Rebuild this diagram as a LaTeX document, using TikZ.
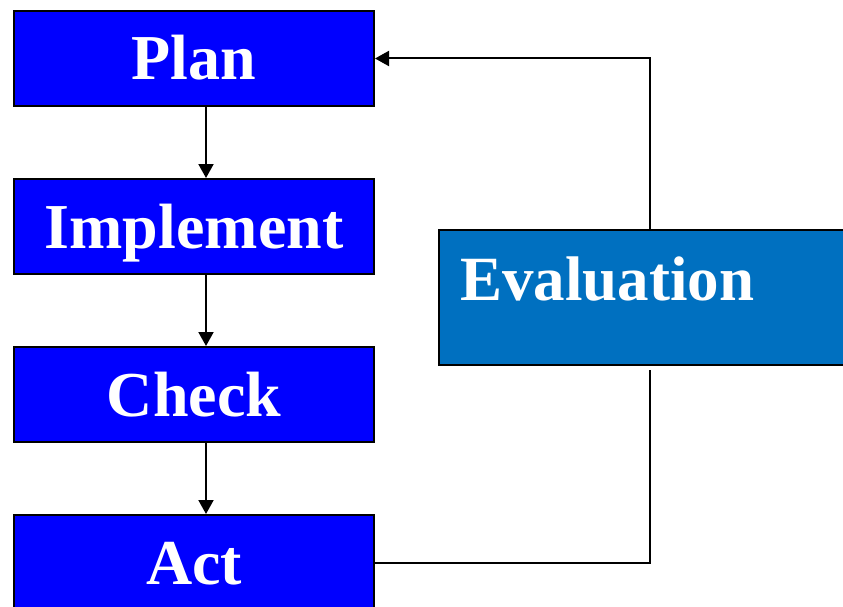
\documentclass[tikz,border=0pt]{standalone}
\usepackage{fontspec}
\setmainfont{Liberation Serif}
\usetikzlibrary{arrows.meta}
\definecolor{stepblue}{HTML}{0000FF}
\definecolor{evalblue}{HTML}{0070C0}
\begin{document}
\begin{tikzpicture}[x=1pt,y=-1pt,
  stepbox/.style={draw=black, line width=2pt, fill=stepblue, text=white,
    font=\fontsize{64}{70}\selectfont\bfseries, minimum width=360pt,
    text height=69pt, text depth=26pt, inner xsep=0pt, inner ysep=0pt, anchor=north west},
  evalbox/.style={draw=black, line width=2pt, fill=evalblue, text=white,
    font=\fontsize{63}{70}\selectfont\bfseries, text width=390pt, align=left,
    text height=70pt, text depth=65pt, inner xsep=21pt, inner ysep=0pt, anchor=north west},
  arr/.style={line width=2pt, -{Triangle[length=14pt,width=15pt]}},
  conn/.style={line width=2pt}]
\useasboundingbox (0,0) rectangle (843,607);
\clip (0,0) rectangle (843,607);
\node[stepbox] (plan) at (13,10) {Plan};
\node[stepbox] (impl) at (13,178) {Implement};
\node[stepbox] (check) at (13,346) {Check};
\node[stepbox] (act) at (13,514) {Act};
\node[evalbox] (eval) at (438,229) {Evaluation};
\coordinate (e1) at (650,370);
\coordinate (e2) at (650,229);
\draw[arr] ([xshift=12pt]plan.south) -- ([xshift=12pt]impl.north);
\draw[arr] ([xshift=12pt]impl.south) -- ([xshift=12pt]check.north);
\draw[arr] ([xshift=12pt]check.south) -- ([xshift=12pt]act.north);
\draw[conn] (act.east) -| (e1);
\draw[arr] (e2) |- (plan.east);
\end{tikzpicture}
\end{document}
